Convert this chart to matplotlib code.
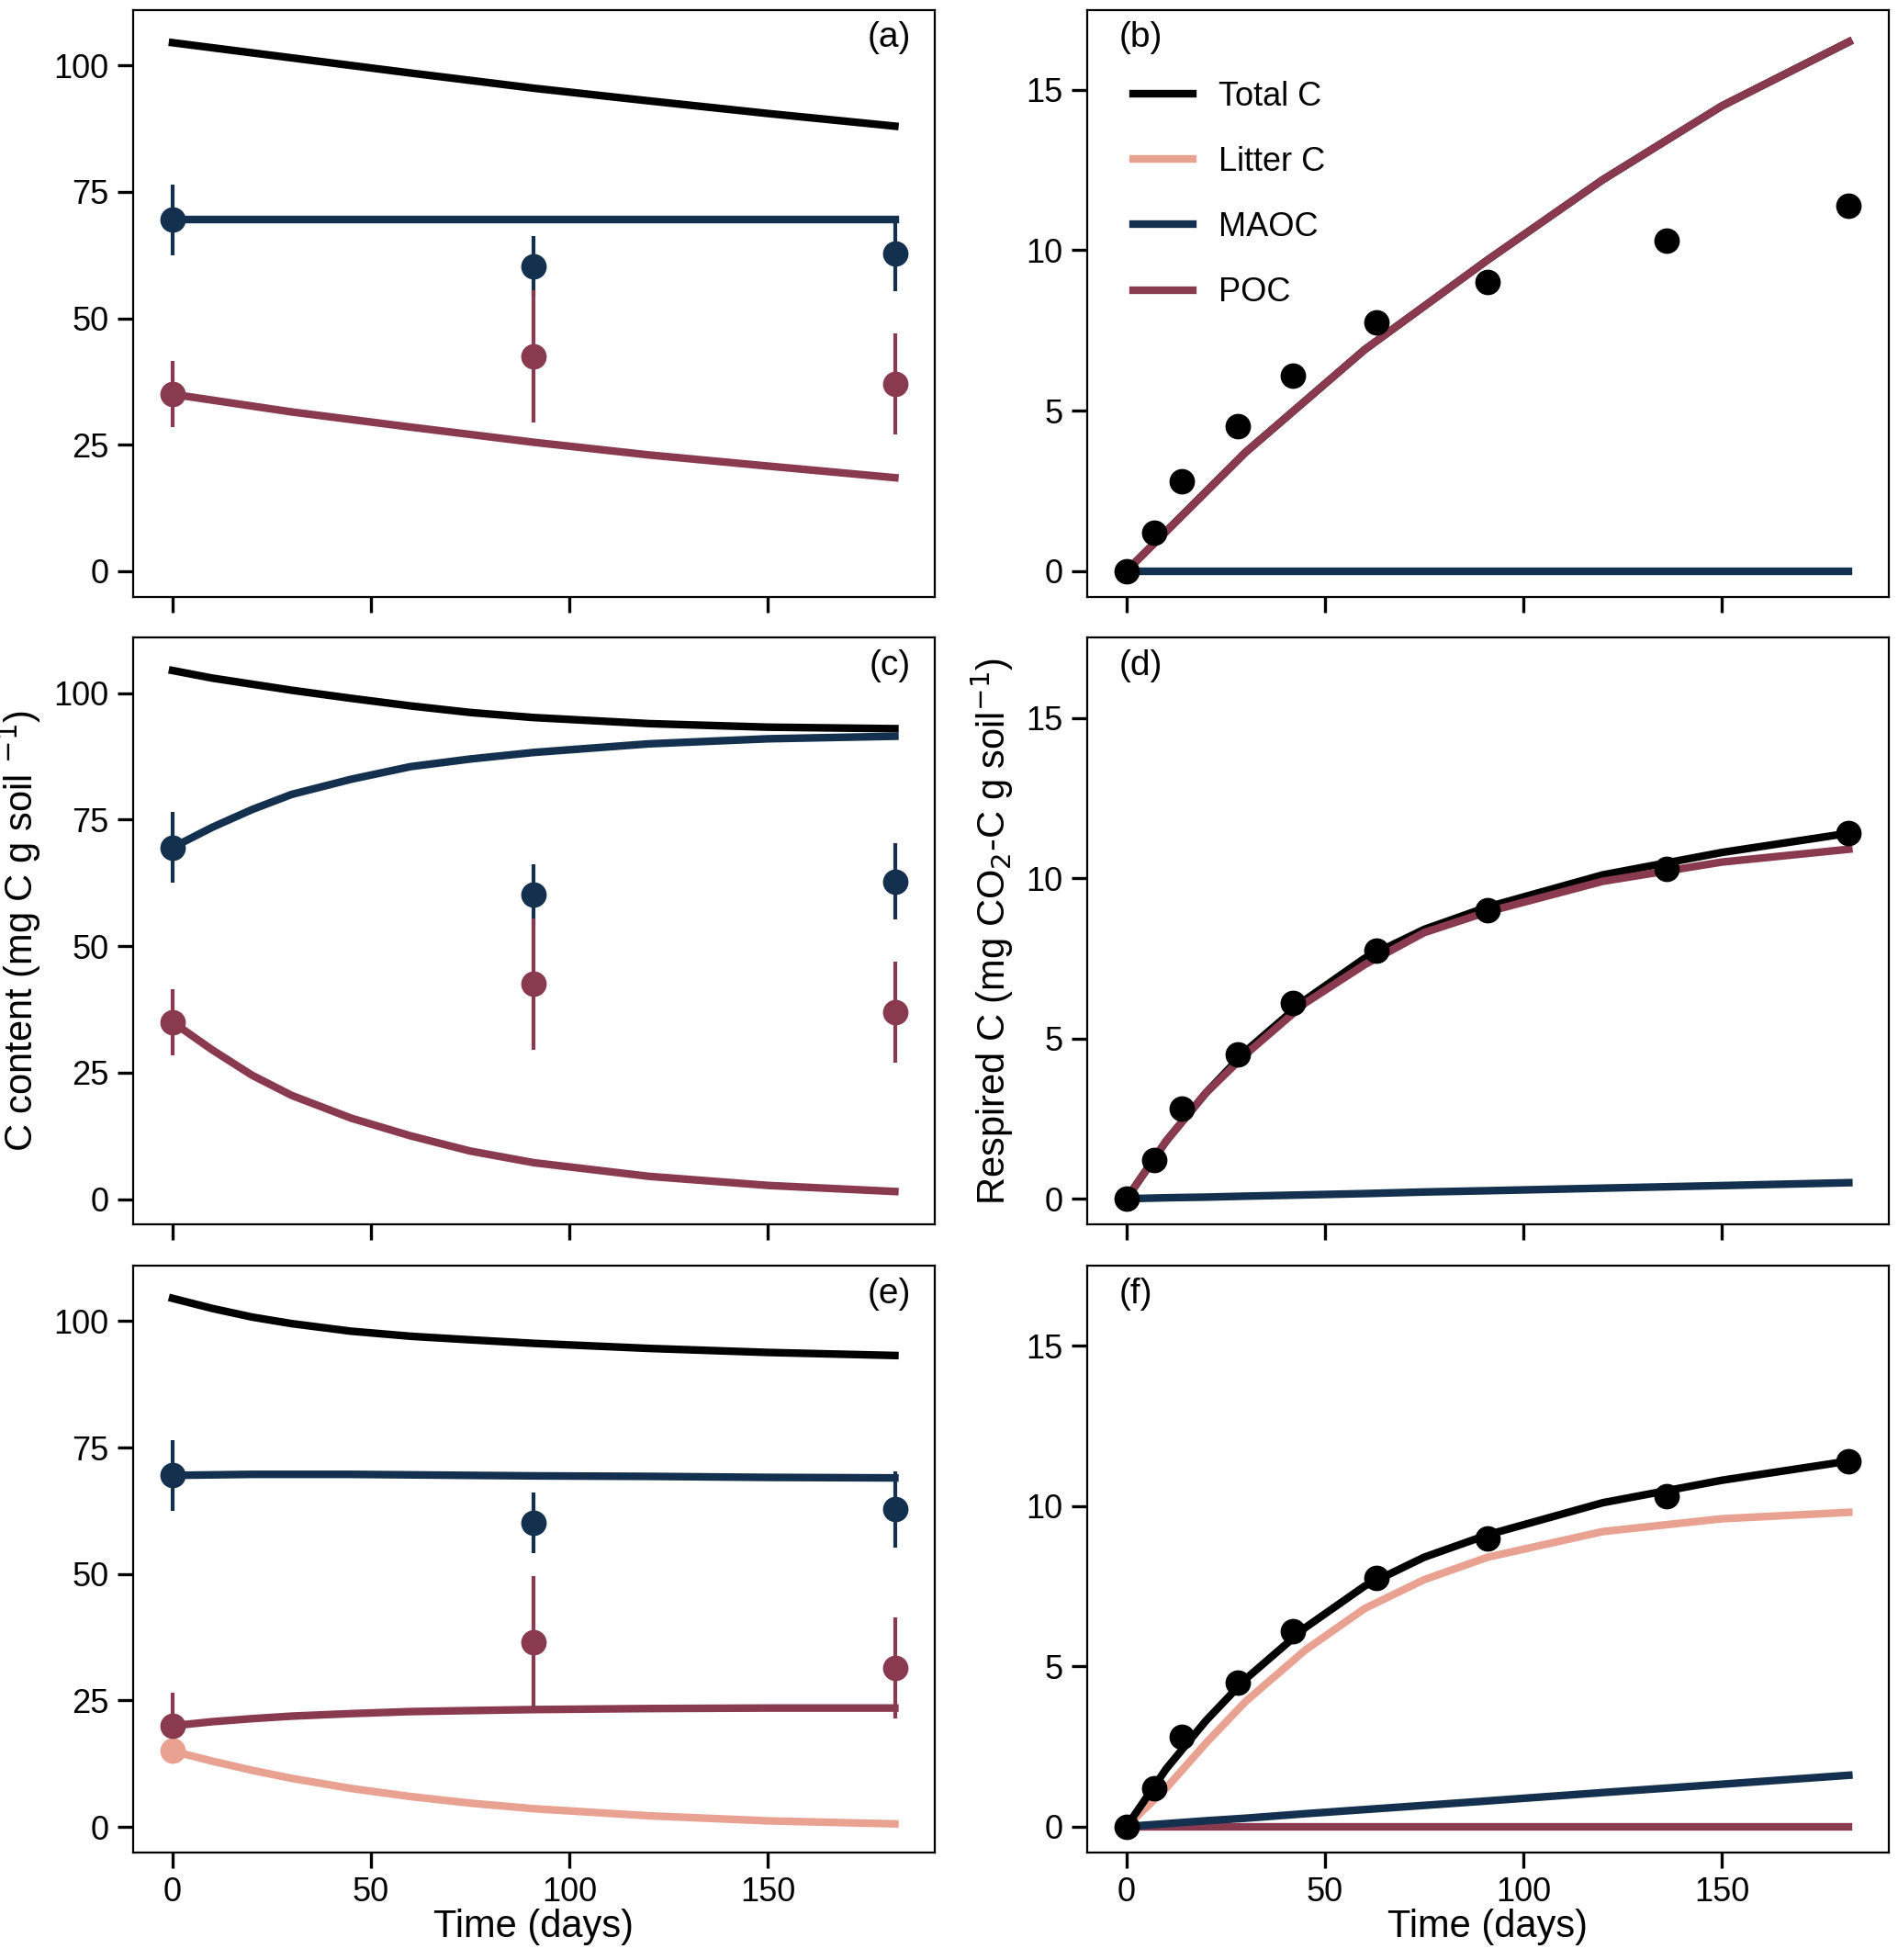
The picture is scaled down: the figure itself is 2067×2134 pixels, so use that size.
import numpy as np
import matplotlib.pyplot as plt

plt.rcParams['font.family'] = ['Liberation Sans', 'DejaVu Sans']
plt.rcParams['font.size'] = 13

# colores
c_tot = 'black'
c_lit = '#E9A291'
c_mao = '#14304F'
c_poc = '#8A3A4E'

# tiempo del modelo (dias)
t_mod = np.array([0, 30, 60, 91, 120, 150, 182])
t_mod2 = np.array([0, 10, 20, 30, 45, 60, 75, 91, 120, 150, 182])

# observaciones fracciones
t_obs = np.array([0, 91, 182])
maoc_obs = np.array([69.5, 60.2, 62.8])
maoc_err = np.array([7, 6, 7.5])
poc_obs_a = np.array([35, 42.5, 37])
poc_err = np.array([6.5, 13, 10])
poc_obs_e = np.array([20, 36.5, 31.5])
lit_obs_e = np.array([15])

# respiracion observada
t_resp = np.array([0, 7, 14, 28, 42, 63, 91, 136, 182])
resp_obs = np.array([0, 1.2, 2.8, 4.5, 6.1, 7.75, 9.0, 10.3, 11.4])

# (a)
a_tot = np.array([104.5, 101.5, 98.5, 95.5, 93, 90.5, 88])
a_mao = np.array([69.5, 69.5, 69.5, 69.5, 69.5, 69.5, 69.5])
a_poc = np.array([35, 31.5, 28.5, 25.5, 23, 20.8, 18.5])
# (b)
b_poc = np.array([0, 3.7, 6.9, 9.7, 12.2, 14.5, 16.5])
b_mao = np.array([0, 0, 0, 0, 0, 0, 0])
# (c)
c_tot_v = np.array([104.5, 103, 101.8, 100.6, 99, 97.5, 96.2, 95.2, 94, 93.3, 93])
c_mao_v = np.array([69.5, 73.5, 77, 80, 83, 85.5, 87, 88.3, 90, 91, 91.5])
c_poc_v = np.array([35, 29.5, 24.5, 20.5, 16, 12.5, 9.5, 7.2, 4.5, 2.7, 1.5])
# (d)
d_tot = np.array([0, 1.8, 3.3, 4.6, 6.2, 7.5, 8.4, 9.1, 10.1, 10.8, 11.4])
d_poc = np.array([0, 1.8, 3.3, 4.5, 6.1, 7.3, 8.3, 8.95, 9.9, 10.5, 10.9])
d_mao = np.array([0, 0.03, 0.05, 0.08, 0.12, 0.16, 0.21, 0.25, 0.33, 0.41, 0.5])
# (e)
e_tot = np.array([104.5, 102.5, 100.8, 99.5, 98, 97, 96.3, 95.6, 94.6, 93.8, 93.2])
e_mao = np.array([69.5, 69.6, 69.7, 69.7, 69.7, 69.6, 69.5, 69.4, 69.3, 69.1, 69])
e_poc = np.array([20, 20.8, 21.4, 21.9, 22.4, 22.8, 23, 23.2, 23.4, 23.5, 23.5])
e_lit = np.array([15, 13, 11.2, 9.6, 7.6, 6, 4.7, 3.6, 2.2, 1.2, 0.6])
# (f)
f_tot = np.array([0, 1.8, 3.3, 4.6, 6.2, 7.5, 8.4, 9.1, 10.1, 10.8, 11.4])
f_lit = np.array([0, 1.2, 2.6, 3.9, 5.5, 6.8, 7.7, 8.4, 9.2, 9.6, 9.8])
f_mao = np.array([0, 0.09, 0.18, 0.26, 0.4, 0.53, 0.66, 0.8, 1.06, 1.32, 1.6])
f_poc = np.zeros(11)

fig, axs = plt.subplots(3, 2, figsize=(10.335, 10.67), dpi=200, sharex=True)
lw = 3

def fracs(ax, poc_o):
    ax.errorbar(t_obs, maoc_obs, yerr=maoc_err, fmt='o', color=c_mao, ms=9, elinewidth=1.5, zorder=5)
    ax.errorbar(t_obs, poc_o, yerr=poc_err, fmt='o', color=c_poc, ms=9, elinewidth=1.5, zorder=5)

ax = axs[0, 0]
ax.plot(t_mod, a_tot, color=c_tot, lw=lw)
ax.plot(t_mod, a_mao, color=c_mao, lw=lw)
ax.plot(t_mod, a_poc, color=c_poc, lw=lw)
fracs(ax, poc_obs_a)

ax = axs[1, 0]
ax.plot(t_mod2, c_tot_v, color=c_tot, lw=lw)
ax.plot(t_mod2, c_mao_v, color=c_mao, lw=lw)
ax.plot(t_mod2, c_poc_v, color=c_poc, lw=lw)
fracs(ax, poc_obs_a)

ax = axs[2, 0]
ax.plot(t_mod2, e_tot, color=c_tot, lw=lw)
ax.plot(t_mod2, e_mao, color=c_mao, lw=lw)
ax.plot(t_mod2, e_poc, color=c_poc, lw=lw)
ax.plot(t_mod2, e_lit, color=c_lit, lw=lw)
fracs(ax, poc_obs_e)
ax.plot([0], lit_obs_e, 'o', color=c_lit, ms=9, zorder=5)

ax = axs[0, 1]
ax.plot(t_mod, b_poc, color=c_tot, lw=lw, label='Total C')
ax.plot([], [], color=c_lit, lw=lw, label='Litter C')
ax.plot(t_mod, b_mao, color=c_mao, lw=lw, label='MAOC')
ax.plot(t_mod, b_poc, color=c_poc, lw=lw, label='POC')
ax.plot(t_resp, resp_obs, 'o', color='black', ms=9, zorder=5)
ax.legend(loc='upper left', bbox_to_anchor=(0.02, 0.93), frameon=False, handlelength=1.8, labelspacing=1.0)

ax = axs[1, 1]
ax.plot(t_mod2, d_tot, color=c_tot, lw=lw)
ax.plot(t_mod2, d_poc, color=c_poc, lw=lw)
ax.plot(t_mod2, d_mao, color=c_mao, lw=lw)
ax.plot(t_resp, resp_obs, 'o', color='black', ms=9, zorder=5)

ax = axs[2, 1]
ax.plot(t_mod2, f_poc, color=c_poc, lw=lw)
ax.plot(t_mod2, f_mao, color=c_mao, lw=lw)
ax.plot(t_mod2, f_lit, color=c_lit, lw=lw)
ax.plot(t_mod2, f_tot, color=c_tot, lw=lw)
ax.plot(t_resp, resp_obs, 'o', color='black', ms=9, zorder=5)

letras = ['(a)', '(b)', '(c)', '(d)', '(e)', '(f)']
for i, ax in enumerate(axs.flat):
    ax.set_xlim(-10, 192)
    ax.set_xticks([0, 50, 100, 150])
    if i % 2 == 0:
        ax.set_ylim(-5, 111)
        ax.set_yticks([0, 25, 50, 75, 100])
        ax.text(0.97, 0.98, letras[i], transform=ax.transAxes, ha='right', va='top', fontsize=14)
    else:
        ax.set_ylim(-0.8, 17.5)
        ax.set_yticks([0, 5, 10, 15])
        ax.text(0.04, 0.98, letras[i], transform=ax.transAxes, ha='left', va='top', fontsize=14)
    ax.tick_params(length=6, width=1.2, labelsize=13)

axs[2, 0].set_xlabel('Time (days)', fontsize=15, labelpad=0)
axs[2, 1].set_xlabel('Time (days)', fontsize=15, labelpad=0)
axs[1, 0].set_ylabel('C content (mg C g soil $^{-1}$)', fontsize=15)
axs[1, 1].set_ylabel('Respired C (mg CO$_2$-C g soil$^{-1}$)', fontsize=15)

plt.subplots_adjust(left=0.07, right=0.995, top=0.995, bottom=0.055, wspace=0.19, hspace=0.07)
plt.savefig('out.png', dpi=200)
